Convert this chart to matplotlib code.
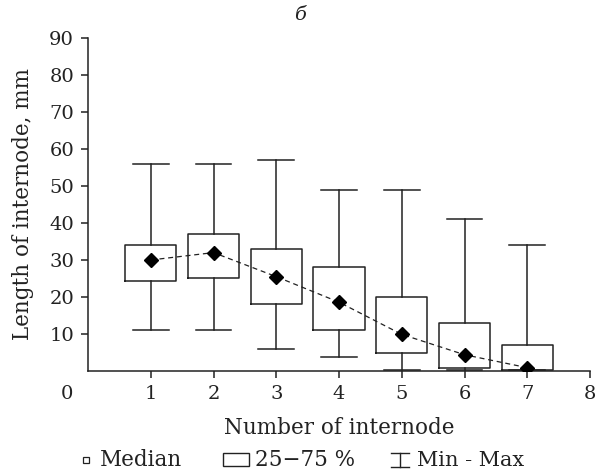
import numpy as np
import matplotlib
matplotlib.use("Agg")
import matplotlib.pyplot as plt
from matplotlib.lines import Line2D
from matplotlib.patches import Rectangle
from matplotlib.transforms import ScaledTranslation

# internode statistics (mm)
internode = [1, 2, 3, 4, 5, 6, 7]
medians = [30, 32, 25.5, 18.6, 9.9, 4.4, 0.9]
q1 = [24.2, 25.2, 18.2, 11, 5, 0.8, 0.4]
q3 = [34, 37, 33, 28, 20, 13.1, 6.9]
mins = [11, 11, 6, 3.9, 0.3, 0.35, 0.2]
maxs = [56, 56, 57, 49, 49, 41, 34]

xticks = [0, 1, 2, 3, 4, 5, 6, 7, 8]
yticks = [10, 20, 30, 40, 50, 60, 70, 80, 90]

plt.rcParams['font.family'] = ['DejaVu Serif']
col = '#222222'

fig = plt.figure(figsize=(5.99, 4.71), dpi=100)
ax = fig.add_axes([88/599, 100/471, 502/599, 333/471])

stats = []
for i in range(len(internode)):
    stats.append(dict(med=medians[i], q1=q1[i], q3=q3[i],
                      whislo=mins[i], whishi=maxs[i], fliers=[]))

ax.bxp(stats, positions=internode, widths=0.82, showfliers=False,
       manage_ticks=False,
       boxprops=dict(color=col, linewidth=1.1),
       whiskerprops=dict(color=col, linewidth=1.1),
       capprops=dict(color=col, linewidth=1.1),
       medianprops=dict(linewidth=0),
       capwidths=0.57)
ax.plot(internode, medians, ls=(0, (4, 3)), color=col, lw=0.9,
        marker='D', ms=7.5, mfc='black', mec='black', zorder=5)

ax.set_xlim(0, 8)
ax.set_ylim(0, 90)
ax.set_xticks(xticks)
ax.set_yticks(yticks)
ax.spines['top'].set_visible(False)
ax.spines['right'].set_visible(False)
for s in ['left', 'bottom']:
    ax.spines[s].set_color(col)
    ax.spines[s].set_linewidth(1.1)
ax.tick_params(direction='out', length=5, width=1.1, color=col,
               labelsize=14, labelcolor=col, pad=5)

# origin label sits left of the corner, no tick mark there
ax.xaxis.get_major_ticks()[0].tick1line.set_visible(False)
lab0 = ax.get_xticklabels()[0]
lab0.set_transform(lab0.get_transform() + ScaledTranslation(-0.21, 0, fig.dpi_scale_trans))

ax.set_xlabel('Number of internode', fontsize=15.5, color=col, labelpad=10)
ax.set_ylabel('Length of internode, mm', fontsize=15.5, color=col, labelpad=11)
fig.text(300/599, 1 - 15/471, 'б', fontsize=14, style='italic',
         ha='center', va='center', color=col)

# legend row
ly = 1 - 460/471
fig.add_artist(Rectangle((83/599, ly - 3/471), 6/599, 6/471, fill=False,
                         ec=col, lw=0.9, transform=fig.transFigure))
fig.text(100/599, ly, 'Median', fontsize=15.5, va='center', color=col)
fig.add_artist(Rectangle((223/599, ly - 6/471), 26/599, 13/471, fill=False,
                         ec=col, lw=1.0, transform=fig.transFigure))
fig.text(255/599, ly, '25−75 %', fontsize=15.5, va='center', color=col)
wx = 400/599
for xs, ys in [([wx, wx], [ly - 7/471, ly + 7/471]),
               ([wx - 9/599, wx + 9/599], [ly + 7/471, ly + 7/471]),
               ([wx - 9/599, wx + 9/599], [ly - 7/471, ly - 7/471])]:
    fig.add_artist(Line2D(xs, ys, color=col, lw=1.0, transform=fig.transFigure))
fig.text(417/599, ly, 'Min - Max', fontsize=15, va='center', color=col)

fig.savefig('out.png', dpi=100)
